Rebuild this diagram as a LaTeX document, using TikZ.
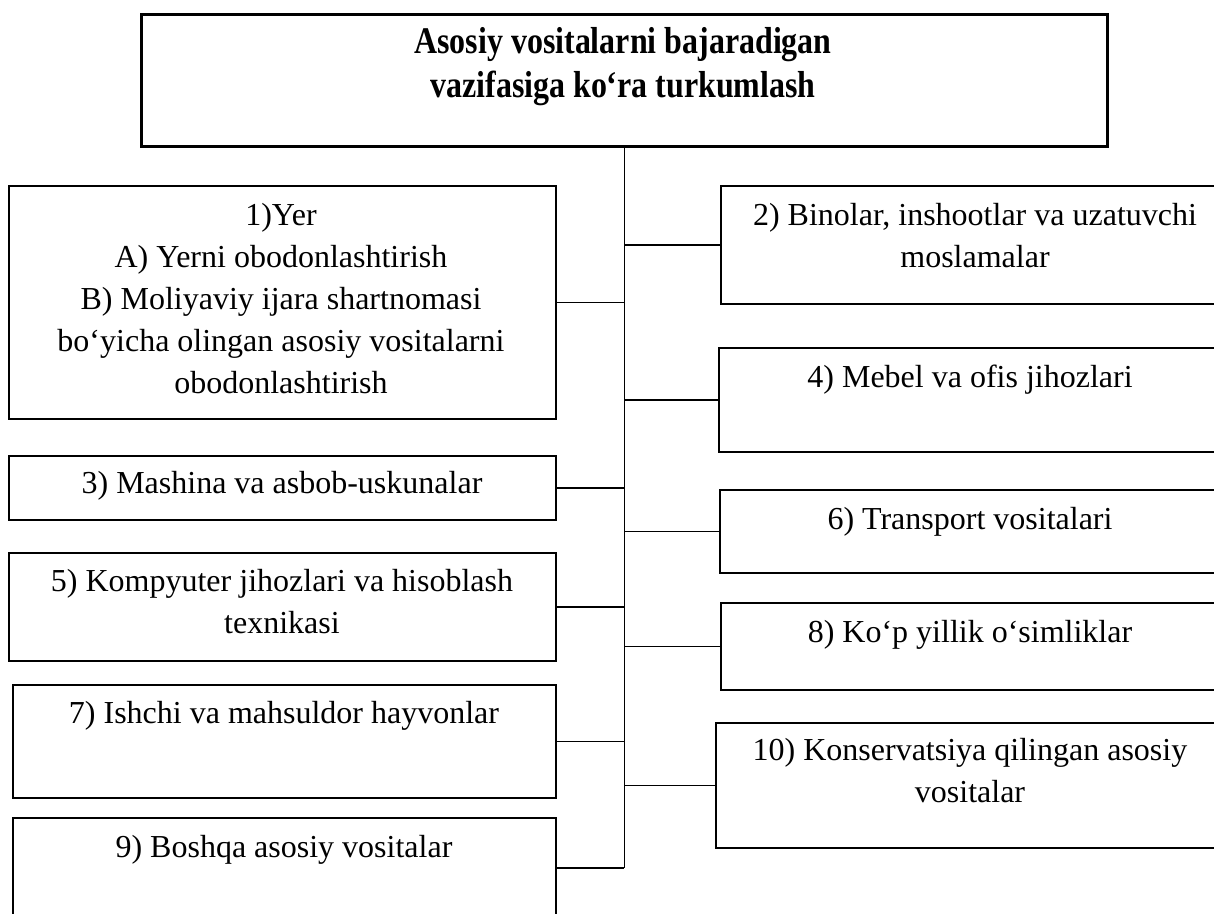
\documentclass[tikz,border=0pt]{standalone}
\usepackage{fontspec}
\setmainfont{Liberation Serif}
\newfontfamily\headfont[FakeStretch=0.85]{Liberation Serif}
\begin{document}
\begin{tikzpicture}[x=1pt,y=-1pt,
  box/.style={draw=black, line width=1.8pt, rectangle, inner sep=0pt, anchor=north west},
  headbox/.style={box, line width=2.6pt},
  txt/.style={inner sep=0pt, align=center, anchor=base, font=\fontsize{32}{42}\selectfont},
  headtxt/.style={txt, font=\headfont\bfseries\fontsize{37.6}{44}\selectfont},
  link/.style={draw=black, line width=1.6pt}]
\useasboundingbox (0,0) rectangle (1214,913);
\clip (0,0) rectangle (1214,913);
\fill[white] (0,0) rectangle (1214,913);

% heading (multi-line labels sit on the baseline of their last line)
\node[headbox, minimum width=966pt, minimum height=132pt] (head) at (140,13) {};
\node[headtxt] (headt) at (623,97) {Asosiy vositalarni bajaradigan\\vazifasiga ko‘ra turkumlash};

% left column
\node[box, minimum width=547pt, minimum height=233pt] (b1) at (8,185) {};
\node[box, minimum width=547pt, minimum height=64pt]  (b3) at (8,455) {};
\node[box, minimum width=547pt, minimum height=108pt] (b5) at (8,552) {};
\node[box, minimum width=543pt, minimum height=113pt] (b7) at (12,684) {};
\node[box, minimum width=543pt, minimum height=100pt] (b9) at (12,817) {};

% right column (running past the right edge)
\node[box, minimum width=510pt, minimum height=118pt] (b2)  at (720,185) {};
\node[box, minimum width=512pt, minimum height=104pt] (b4)  at (718,347) {};
\node[box, minimum width=511pt, minimum height=83pt]  (b6)  at (719,489) {};
\node[box, minimum width=510pt, minimum height=87pt]  (b8)  at (720,602) {};
\node[box, minimum width=515pt, minimum height=125pt] (b10) at (715,722) {};

% labels
\node[txt] (t1) at (281,393) {1)Yer\\A) Yerni obodonlashtirish\\B) Moliyaviy ijara shartnomasi\\bo‘yicha olingan asosiy vositalarni\\obodonlashtirish};
\node[txt] (t3) at (282,493) {3) Mashina va asbob-uskunalar};
\node[txt] (t5) at (282,633) {5) Kompyuter jihozlari va hisoblash\\texnikasi};
\node[txt] (t7) at (284,723) {7) Ishchi va mahsuldor hayvonlar};
\node[txt] (t9) at (284,857) {9) Boshqa asosiy vositalar};
\node[txt] (t2) at (975,267) {2) Binolar, inshootlar va uzatuvchi\\moslamalar};
\node[txt] (t4) at (970,387) {4) Mebel va ofis jihozlari};
\node[txt] (t6) at (970,529) {6) Transport vositalari};
\node[txt] (t8) at (970,642) {8) Ko‘p yillik o‘simliklar};
\node[txt] (t10) at (970,802) {10) Konservatsiya qilingan asosiy\\vositalar};

% trunk and branches
\coordinate (trunkend) at (head.south |- b9.east);
\draw[link] (head.south) -- (trunkend);
\foreach \b in {b1,b3,b5,b7,b9}
  \draw[link] (\b.east) -- (\b.east -| head.south);
\foreach \b in {b2,b4,b6,b8,b10}
  \draw[link] (\b.west) -- (\b.west -| head.south);
\end{tikzpicture}
\end{document}
